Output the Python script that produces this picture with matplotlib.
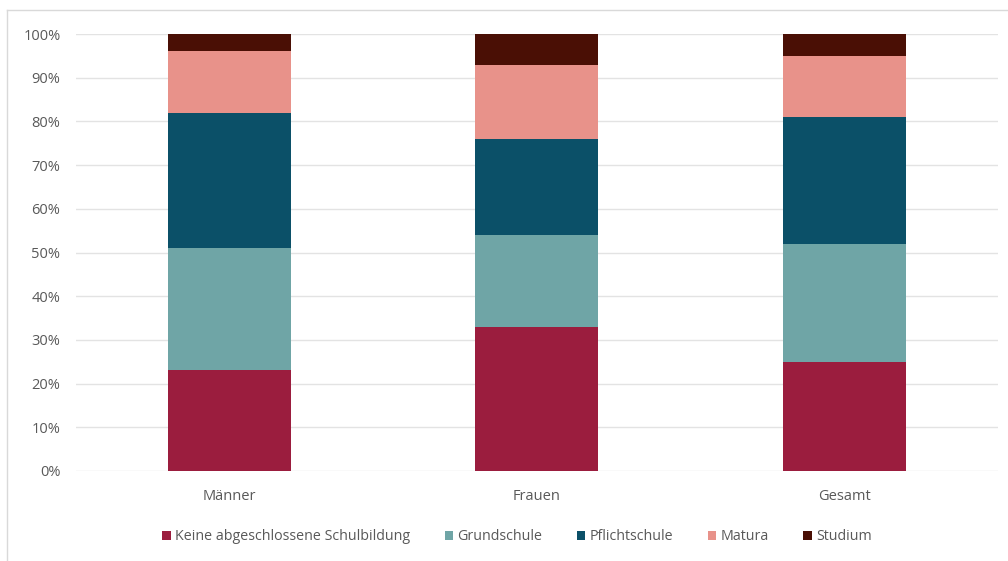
import matplotlib.pyplot as plt
from matplotlib.lines import Line2D
from matplotlib.ticker import PercentFormatter

# Daten
gruppen = ['Männer', 'Frauen', 'Gesamt']
keine = [23, 33, 25]
grundschule = [28, 21, 27]
pflichtschule = [31, 22, 29]
matura = [14, 17, 14]
studium = [4, 7, 5]

serien = [
    ('Keine abgeschlossene Schulbildung', keine, '#9B1D3E'),
    ('Grundschule', grundschule, '#6FA5A6'),
    ('Pflichtschule', pflichtschule, '#0B5068'),
    ('Matura', matura, '#E8928A'),
    ('Studium', studium, '#4A0F05'),
]

plt.rcParams['font.family'] = ['Open Sans', 'DejaVu Sans']

fig = plt.figure(figsize=(10.08, 5.61), dpi=100)
ax = fig.add_axes([75.75 / 1008, 1 - 471 / 561, (998 - 75.75) / 1008, 437 / 561])

x = range(len(gruppen))
unten = [0] * len(gruppen)
for name, werte, farbe in serien:
    ax.bar(x, werte, bottom=unten, width=0.4, color=farbe, label=name, zorder=3)
    unten = [u + w for u, w in zip(unten, werte)]

ax.set_xlim(-0.5, 2.5)
ax.set_ylim(0, 100)
ax.set_yticks(range(0, 101, 10))
ax.yaxis.set_major_formatter(PercentFormatter(decimals=0))
ax.set_xticks(list(x))
ax.set_xticklabels(gruppen)
ax.grid(axis='y', color='#E3E3E3', linewidth=1, zorder=0)
for s in ax.spines.values():
    s.set_visible(False)
ax.tick_params(axis='both', length=0, labelsize=10.5, colors='#595959')
ax.tick_params(axis='x', pad=13)
ax.tick_params(axis='y', pad=11)

ax.legend(loc='center', bbox_to_anchor=(517 / 1008, (561 - 537) / 561), bbox_transform=fig.transFigure,
          ncol=5, frameon=False, fontsize=10.3, handlelength=0.6, handleheight=0.6,
          handletextpad=0.3, columnspacing=2.4, labelcolor='#595959')

# Rahmen
fig.add_artist(Line2D([7 / 1008, 7 / 1008], [0, 1 - 10 / 561], color='#D9D9D9', linewidth=1))
fig.add_artist(Line2D([7 / 1008, 1], [1 - 10 / 561, 1 - 10 / 561], color='#D9D9D9', linewidth=1))

fig.savefig('out.png', dpi=100)
